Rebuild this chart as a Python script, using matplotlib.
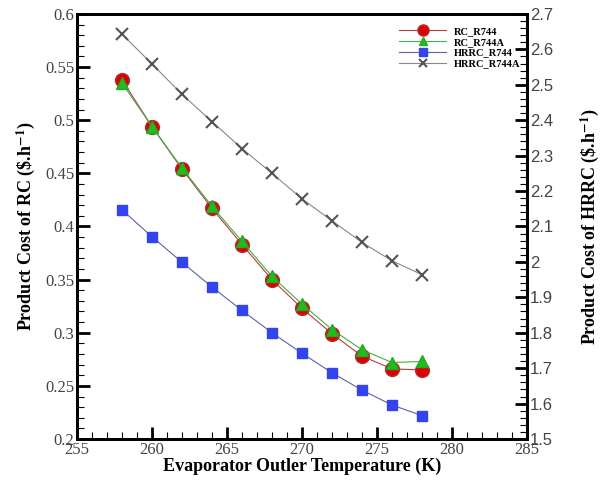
import matplotlib.pyplot as plt
from matplotlib.ticker import MultipleLocator, FormatStrFormatter

plt.rcParams['mathtext.fontset'] = 'stix'

temp = [258, 260, 262, 264, 266, 268, 270, 272, 274, 276, 278]
rc_r744 = [0.538, 0.494, 0.454, 0.417, 0.383, 0.350, 0.323, 0.299, 0.278, 0.266, 0.265]
rc_r744a = [0.535, 0.494, 0.455, 0.419, 0.386, 0.353, 0.327, 0.303, 0.284, 0.272, 0.273]
hrrc_r744 = [2.147, 2.071, 1.999, 1.929, 1.863, 1.800, 1.742, 1.687, 1.638, 1.596, 1.566]
hrrc_r744a = [2.643, 2.559, 2.473, 2.396, 2.320, 2.250, 2.178, 2.116, 2.055, 2.003, 1.964]

serif = 'Liberation Serif'
sans = 'Liberation Sans'
tick_col = '#444444'

fig = plt.figure(figsize=(6.09, 4.82), dpi=100)
ax = fig.add_axes([0.1264, 0.0892, 0.739, 0.8818])
ax2 = ax.twinx()

l1, = ax.plot(temp, rc_r744, color='#b04040', lw=0.8, marker='o', ms=10,
              mfc='#dd0000', mec='#b03030', mew=1.0, label='RC_R744')
l2, = ax.plot(temp, rc_r744a, color='#40b040', lw=0.8, marker='^', ms=8,
              mfc='#22bb22', mec='#22aa22', label='RC_R744A')
l3, = ax2.plot(temp, hrrc_r744, color='#6060b0', lw=0.8, marker='s', ms=7,
               mfc='#3344ee', mec='#3344ee', label='HRRC_R744')
l4, = ax2.plot(temp, hrrc_r744a, color='#888888', lw=0.8, marker='x', ms=8,
               mec='#555555', mew=1.5, label='HRRC_R744A')

ax.set_xlim(255, 285)
ax.set_ylim(0.2, 0.6)
ax2.set_ylim(1.5, 2.7)

ax.xaxis.set_major_locator(MultipleLocator(5))
ax.xaxis.set_minor_locator(MultipleLocator(1))
ax.yaxis.set_major_locator(MultipleLocator(0.05))
ax.yaxis.set_minor_locator(MultipleLocator(0.01))
ax.yaxis.set_major_formatter(FormatStrFormatter('%g'))
ax2.yaxis.set_major_locator(MultipleLocator(0.1))
ax2.yaxis.set_minor_locator(MultipleLocator(0.02))
ax2.yaxis.set_major_formatter(FormatStrFormatter('%g'))

for a in (ax, ax2):
    for s in a.spines.values():
        s.set_linewidth(2)
    a.tick_params(which='major', direction='in', length=9, width=2)
    a.tick_params(which='minor', direction='in', length=5, width=0.8)
ax.tick_params(top=False, which='both')
ax.tick_params(axis='both', labelsize=12, labelcolor=tick_col, pad=2)
ax2.tick_params(axis='y', labelsize=12, labelcolor=tick_col, pad=2)
for lab in ax.get_xticklabels() + ax.get_yticklabels():
    lab.set_family(serif)
for lab in ax2.get_yticklabels():
    lab.set_family(sans)

ax.set_xlabel('Evaporator Outler Temperature (K)', fontfamily=serif,
              fontweight='bold', fontsize=13, labelpad=0)
ax.set_ylabel(r'Product Cost of RC (\$.h$^{\mathbf{-1}}$)', fontfamily=serif,
              fontweight='bold', fontsize=13, labelpad=6)
ax2.set_ylabel(r'Product Cost of HRRC (\$.h$^{\mathbf{-1}}$)', fontfamily=serif,
               fontweight='bold', fontsize=13, labelpad=18)

leg = ax2.legend(handles=[l1, l2, l3, l4], loc='upper right',
                 bbox_to_anchor=(1.0, 0.985), frameon=False,
                 prop={'family': serif, 'weight': 'bold', 'size': 7.5},
                 handlelength=4.5, labelspacing=0.15, handletextpad=0.8,
                 borderaxespad=0.2, markerscale=0.8)

fig.savefig('out.png', dpi=100)
